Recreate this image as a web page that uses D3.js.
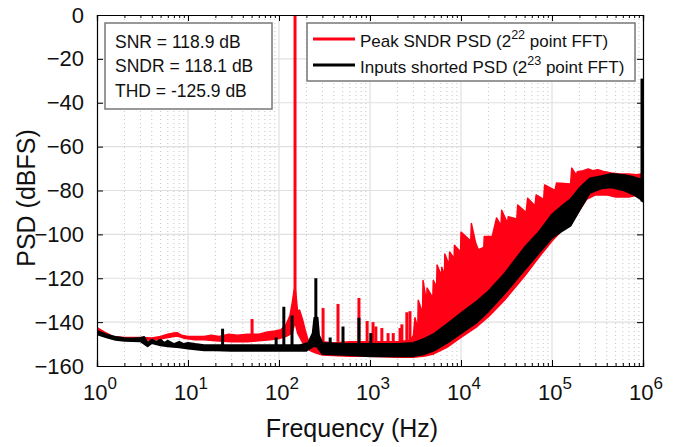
<!DOCTYPE html>
<html>
<head>
<meta charset="utf-8">
<script src="https://cdn.jsdelivr.net/npm/d3@7"></script>
<style>
  body { margin: 0; background: #fff; }
  svg { font-family: "Liberation Sans", Arial, Helvetica, sans-serif; }
</style>
</head>
<body>
<div id="chart"></div>
<script>
// ---- data (frequency in Hz, PSD in dBFS) ----
const yTicks = [-160, -140, -120, -100, -80, -60, -40, -20, 0];
const xDecades = [0, 1, 2, 3, 4, 5, 6];
const statsLines = ['SNR = 118.9 dB', 'SNDR = 118.1 dB', 'THD = -125.9 dB'];
const legendItems = [
  { name: 'Peak SNDR PSD (2', sup: '22', tail: ' point FFT)', color: '#ff0015' },
  { name: 'Inputs shorted PSD (2', sup: '23', tail: ' point FFT)', color: '#000000' }
];

// red trace: upper outline (incl. sawtooth teeth), lower outline, narrow spikes [f, base, top]
const redUpper = [
  [1, -142.5], [1.2, -144.5], [1.5, -146.5], [2, -147], [3, -147], [4, -147.2], [5, -146.5],
  [6, -145.5], [7, -145], [7.6, -144.8], [8.5, -146], [10, -146.5], [12, -146.5], [15, -146.5],
  [18, -146], [22, -146.5], [28, -145.5], [35, -146], [45, -145.5], [60, -145.5], [75, -144.5],
  [90, -144], [105, -143.5], [120, -141], [132, -137], [140, -131], [146, -126], [150, -124],
  [154, -128], [160, -135], [168, -134.5], [182, -139], [195, -144], [215, -150], [240, -152],
  [270, -150.5], [300, -149], [400, -149.5], [600, -149], [1000, -149], [1500, -149],
  [2000, -149], [2500, -148.5], [2800, -148],
  [3000, -146], [3120, -138], [3350, -143], [3390, -130], [3780, -136], [3830, -121],
  [4180, -131], [4240, -124.5], [4900, -129], [4960, -121], [5400, -124], [5460, -114],
  [6100, -119], [6160, -115], [6580, -119], [6640, -109], [7400, -114], [7500, -108],
  [8400, -111], [8470, -105], [9900, -108], [10000, -99], [12800, -103], [13000, -95],
  [14500, -104], [15500, -107], [17800, -106], [18000, -101], [22000, -101], [24600, -92.5],
  [27500, -96], [28000, -89], [32500, -95], [33000, -92], [41000, -93], [42000, -86.6],
  [52000, -90], [54000, -83.5], [65000, -87], [67000, -82], [81000, -84], [83000, -77.5],
  [108000, -80], [112000, -76.6], [160000, -77], [165000, -69.8], [185000, -73],
  [190000, -71.5], [220000, -71], [250000, -70.2], [280000, -71], [320000, -70.5],
  [380000, -71.5], [450000, -72], [550000, -72.5], [700000, -72.5], [850000, -72.8],
  [950000, -72.5], [1000000, -72.5]
];
const redLower = [
  [1, -144], [1.2, -145.8], [1.5, -147.5], [2, -148], [3, -148.2], [4, -148.2], [5, -147.7],
  [6, -147], [7.6, -146.3], [9, -147.3], [12, -148], [15, -148], [20, -148.5], [30, -149],
  [45, -149], [60, -148.5], [80, -148], [100, -147.5], [120, -146.5], [140, -145], [150, -140],
  [160, -145], [180, -149], [200, -151], [220, -153], [250, -154], [300, -155], [600, -155.5],
  [1000, -155.5], [2000, -156], [3000, -156], [4000, -155.5], [5000, -154.5], [7000, -151.5],
  [10000, -147], [15000, -142], [20000, -137.5], [30000, -130], [50000, -119], [70000, -111],
  [100000, -103], [130000, -98], [160000, -95.5], [200000, -89], [240000, -84], [300000, -82],
  [400000, -82], [500000, -83], [700000, -83], [900000, -82], [1000000, -80]
];
const redSpikes = [
  [50.6, -147, -138.6], [150, -130, 0], [305, -149, -133.6], [445, -149, -131.7],
  [756, -149, -129], [930, -149, -139.5], [1080, -149, -140], [1160, -149, -142],
  [1350, -149, -142.7], [1580, -149, -145], [1800, -149, -145], [2140, -149, -142.7],
  [2240, -149, -141], [2540, -149, -135.5], [2750, -148, -135]
];

// black trace
const blackUpper = [
  [1, -144], [1.3, -145.8], [1.6, -146.8], [2, -147.3], [2.5, -147.5], [3, -147.2], [3.3, -146.8],
  [3.6, -149.5], [4, -148], [4.5, -149], [5, -148], [5.5, -149.5], [6, -148.5], [7, -150],
  [8, -149], [9, -150], [10, -149.5], [12, -150], [15, -150.5], [20, -150.5], [30, -150.5],
  [40, -150.5], [60, -150.5], [80, -150.5], [100, -150.5], [130, -150.5], [170, -150.5],
  [210, -149.5], [235, -145], [245, -138], [265, -138], [275, -146], [300, -149.5], [500, -150],
  [1000, -150], [2000, -150], [3000, -149.5], [4000, -147.5], [5000, -145.5], [7000, -141],
  [10000, -136], [15000, -130.5], [20000, -126], [30000, -118], [50000, -106], [70000, -99.5],
  [100000, -91], [130000, -87], [160000, -84], [200000, -79], [260000, -74.5], [350000, -73.5],
  [450000, -72.5], [630000, -73], [800000, -74], [950000, -75], [1000000, -76]
];
const blackLower = [
  [1, -145.5], [1.3, -147], [1.6, -148], [2, -148.5], [3, -148.7], [3.6, -151], [4, -149.5],
  [5, -150.5], [6, -151], [8, -151.5], [10, -152], [15, -152.8], [20, -152.8], [30, -153],
  [60, -153], [100, -153], [200, -153], [240, -151], [260, -151], [300, -154.5], [600, -155],
  [1000, -155.5], [2000, -155.5], [3000, -155.5], [4000, -154.5], [5000, -153], [7000, -149.5],
  [10000, -145], [15000, -140], [20000, -135], [30000, -127], [50000, -116], [70000, -109],
  [100000, -101.6], [123000, -99], [160000, -96], [200000, -89], [260000, -81], [350000, -79],
  [450000, -78.5], [630000, -80], [800000, -82], [950000, -84], [1000000, -85]
];
const blackSpikes = [
  [24, -152, -143], [93, -152, -147], [113, -152, -133], [139, -152, -137], [254, -145, -120],
  [365, -152, -147], [505, -152, -142], [756, -152, -138], [1020, -152, -145],
  [975000, -85, -29]
];

// ---- layout ----
const W = 679, H = 447;
const x = d3.scaleLog().domain([1, 1e6]).range([97, 643]);
const y = d3.scaleLinear().domain([-160, 0]).range([366, 15]);

const svg = d3.select('#chart').append('svg')
  .attr('width', W).attr('height', H);

svg.append('defs').append('clipPath').attr('id', 'plotclip')
  .append('rect')
  .attr('x', x.range()[0]).attr('y', y.range()[1])
  .attr('width', x.range()[1] - x.range()[0] + 1)
  .attr('height', y.range()[0] - y.range()[1]);

// grid
const minors = [];
xDecades.slice(0, -1).forEach(k => {
  for (let m = 2; m <= 9; m++) minors.push(m * Math.pow(10, k));
});
const majors = xDecades.map(k => Math.pow(10, k));

const grid = svg.append('g');
grid.selectAll('.minor').data(minors).enter().append('line')
  .attr('x1', d => x(d)).attr('x2', d => x(d))
  .attr('y1', y.range()[1]).attr('y2', y.range()[0])
  .attr('stroke', '#c4c4c4').attr('stroke-width', 1)
  .attr('stroke-dasharray', '1,3');
grid.selectAll('.majorx').data(majors.slice(1, -1)).enter().append('line')
  .attr('x1', d => x(d)).attr('x2', d => x(d))
  .attr('y1', y.range()[1]).attr('y2', y.range()[0])
  .attr('stroke', '#e0e0e0').attr('stroke-width', 1.2);
grid.selectAll('.majory').data(yTicks.slice(1, -1)).enter().append('line')
  .attr('x1', x.range()[0]).attr('x2', x.range()[1])
  .attr('y1', d => y(d)).attr('y2', d => y(d))
  .attr('stroke', '#e0e0e0').attr('stroke-width', 1.2);

// traces
const plot = svg.append('g').attr('clip-path', 'url(#plotclip)');
const outline = d3.line().x(d => x(d[0])).y(d => y(d[1]));

function drawTrace(upper, lower, spikes, color, sw) {
  const pts = upper.concat(lower.slice().reverse());
  plot.append('path')
    .attr('d', outline(pts) + 'Z')
    .attr('fill', color)
    .attr('stroke', color)
    .attr('stroke-width', sw)
    .attr('stroke-linejoin', 'round');
  plot.append('g').selectAll('line').data(spikes).enter().append('line')
    .attr('x1', d => x(d[0])).attr('x2', d => x(d[0]))
    .attr('y1', d => y(d[1])).attr('y2', d => y(d[2]))
    .attr('stroke', color)
    .attr('stroke-width', 3);
}
drawTrace(redUpper, redLower, redSpikes, legendItems[0].color, 1.5);
drawTrace(blackUpper, blackLower, blackSpikes, legendItems[1].color, 2);

// axes
const axes = svg.append('g');
axes.append('g').attr('transform', `translate(0,${y.range()[0]})`)
  .call(d3.axisBottom(x).tickValues(majors).tickSize(-6).tickFormat(''));
axes.append('g').attr('transform', `translate(0,${y.range()[0]})`)
  .call(d3.axisBottom(x).tickValues(minors).tickSize(-3).tickFormat(''));
axes.append('g').attr('transform', `translate(0,${y.range()[1]})`)
  .call(d3.axisTop(x).tickValues(majors).tickSize(-6).tickFormat(''));
axes.append('g').attr('transform', `translate(0,${y.range()[1]})`)
  .call(d3.axisTop(x).tickValues(minors).tickSize(-3).tickFormat(''));
axes.append('g').attr('transform', `translate(${x.range()[0]},0)`)
  .call(d3.axisLeft(y).tickValues(yTicks).tickSize(-6).tickPadding(13).tickFormat(d3.format('d')));
axes.append('g').attr('transform', `translate(${x.range()[1]},0)`)
  .call(d3.axisRight(y).tickValues(yTicks).tickSize(-6).tickFormat(''));
axes.selectAll('.domain').attr('stroke', '#000').attr('stroke-width', 1.2);
axes.selectAll('.tick line').attr('stroke', '#000').attr('stroke-width', 1);
axes.selectAll('.tick text').attr('font-size', 22).attr('fill', '#111')
  .attr('font-family', '"Liberation Sans", Arial, sans-serif');

// x tick labels: 10^k
const xl = svg.append('g').selectAll('text').data(xDecades).enter().append('text')
  .attr('x', d => x(Math.pow(10, d)) + 3)
  .attr('y', 400)
  .attr('text-anchor', 'middle')
  .attr('font-size', 22).attr('fill', '#111');
xl.append('tspan').text('10');
xl.append('tspan').attr('font-size', 17).attr('dy', -11).text(d => d);

// axis titles
svg.append('text')
  .attr('x', 352).attr('y', 437)
  .attr('text-anchor', 'middle').attr('font-size', 25).attr('fill', '#111')
  .text('Frequency (Hz)');
svg.append('text')
  .attr('transform', 'translate(35,198) rotate(-90)')
  .attr('text-anchor', 'middle').attr('font-size', 25).attr('fill', '#111')
  .text('PSD (dBFS)');

// stats box
svg.append('rect')
  .attr('x', 105).attr('y', 23).attr('width', 167).attr('height', 86)
  .attr('fill', '#fff').attr('stroke', '#777').attr('stroke-width', 1.5);
svg.append('g').selectAll('text').data(statsLines).enter().append('text')
  .attr('x', 115).attr('y', (d, i) => 48 + i * 24.4)
  .attr('font-size', 17.5).attr('fill', '#111')
  .text(d => d);

// legend
svg.append('rect')
  .attr('x', 307).attr('y', 23).attr('width', 328).attr('height', 58)
  .attr('fill', '#fff').attr('stroke', '#777').attr('stroke-width', 1.5);
const lg = svg.append('g').selectAll('g').data(legendItems).enter().append('g')
  .attr('transform', (d, i) => `translate(0,${39 + i * 26})`);
lg.append('line')
  .attr('x1', 313).attr('x2', 355)
  .attr('stroke', d => d.color).attr('stroke-width', 3);
const lt = lg.append('text')
  .attr('x', 360).attr('y', 8)
  .attr('font-size', 17).attr('fill', '#111');
lt.append('tspan').text(d => d.name);
lt.append('tspan').attr('font-size', 12.5).attr('dy', -8).text(d => d.sup);
lt.append('tspan').attr('dy', 8).text(d => d.tail);
</script>
</body>
</html>
